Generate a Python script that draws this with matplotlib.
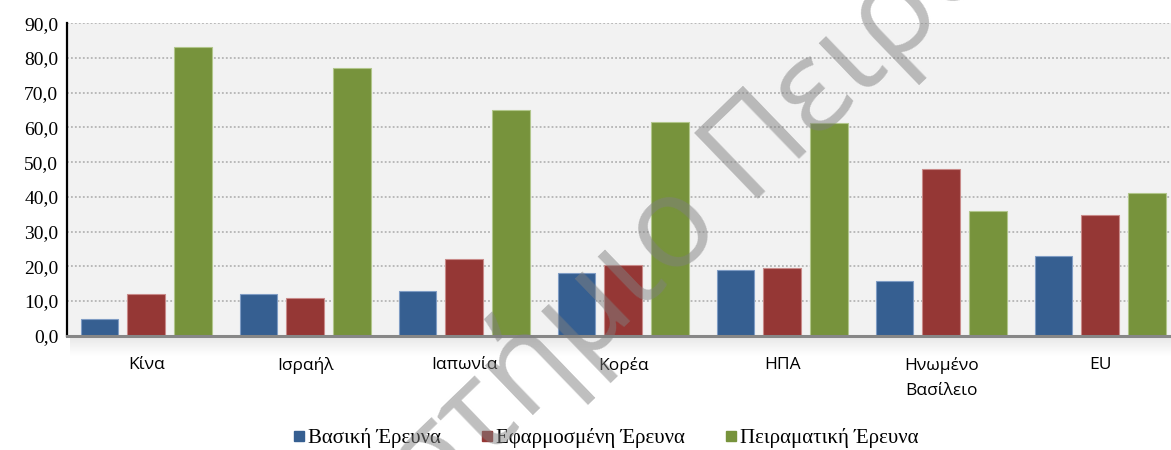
import matplotlib
matplotlib.use("Agg")
import matplotlib.pyplot as plt
import numpy as np
from matplotlib.lines import Line2D

countries = ["Κίνα", "Ισραήλ", "Ιαπωνία", "Κορέα", "ΗΠΑ", "Ηνωμένο\nΒασίλειο", "EU"]
basic = [4.7, 12.0, 12.9, 18.0, 18.9, 15.9, 22.9]
applied = [11.9, 10.9, 22.0, 20.3, 19.5, 47.9, 34.9]
experimental = [83.2, 77.0, 65.0, 61.5, 61.3, 35.8, 41.0]
series_names = ["Βασική Έρευνα", "Εφαρμοσμένη Έρευνα", "Πειραματική Έρευνα"]
y_ticks = [0, 10, 20, 30, 40, 50, 60, 70, 80, 90]
y_labels = ["0,0", "10,0", "20,0", "30,0", "40,0", "50,0", "60,0", "70,0", "80,0", "90,0"]
watermark = "Πανεπιστήμιο Πειραιώς"

colors = ["#365f91", "#953735", "#77933c"]
edges = ["#7f9cc4", "#c98a89", "#b1c68b"]

W, H = 1171, 450
fig = plt.figure(figsize=(W / 100, H / 100), dpi=100)
ax = fig.add_axes([66.7 / W, (H - 335.7) / H, (1179.7 - 66.7) / W, (335.7 - 23.3) / H])
ax.set_facecolor("#f2f2f2")

x = np.arange(len(countries))
width = 0.237
step = 0.294
for i, vals in enumerate([basic, applied, experimental]):
    ax.bar(x + (i - 1) * step, vals, width, color=colors[i], edgecolor=edges[i],
           linewidth=0.8, zorder=3)

ax.set_xlim(-0.5, len(countries) - 0.5)
ax.set_ylim(0, 90)
ax.set_yticks(y_ticks)
ax.set_yticklabels(y_labels, fontfamily="Liberation Serif", fontsize=14)
ax.set_xticks(x)
ax.set_xticklabels(countries, fontfamily="Open Sans", fontsize=12.5, linespacing=1.75)
ax.tick_params(axis="both", length=0)
ax.tick_params(axis="y", pad=6)
ax.tick_params(axis="x", pad=15)

ax.yaxis.grid(True, color="#b4b4b4", linestyle=(0, (1, 1.2)), linewidth=1.3, zorder=1)
ax.set_axisbelow(True)
for side in ["top", "right"]:
    ax.spines[side].set_visible(False)
ax.spines["left"].set_linestyle((0, (1, 1)))
ax.spines["left"].set_linewidth(1.6)
ax.spines["left"].set_color("black")
ax.spines["bottom"].set_color("#878787")
ax.spines["bottom"].set_linewidth(2.2)
ax.spines["bottom"].set_zorder(4)

# soft shadow under the plot area
shadow = fig.add_axes([70 / W, (H - 356) / H, (W - 70) / W, 20 / H], zorder=-1)
grad = np.linspace(0.9, 1.0, 50).reshape(-1, 1)
shadow.imshow(np.repeat(grad, 10, axis=1), cmap="gray", vmin=0, vmax=1, aspect="auto")
shadow.axis("off")

handles = [Line2D([], [], marker="s", linestyle="none", markersize=7.5, color=c) for c in colors]
fig.legend(handles, series_names, loc="center", bbox_to_anchor=(604 / W, (H - 438) / H),
           ncol=3, frameon=False, prop={"family": "Liberation Serif", "size": 15},
           handletextpad=0.0, columnspacing=1.75, handlelength=0.9)

# watermark: place so the "Π" of the second word sits where it is in the original
wm_font = dict(fontfamily="Open Sans", fontsize=92)
angle = 44
renderer = fig.canvas.get_renderer()
probe = fig.text(0, 0, "Πανεπιστήμιο Π", **wm_font)
full_w = probe.get_window_extent(renderer).width
probe.set_text("Π")
pi_w = probe.get_window_extent(renderer).width
probe.remove()
offset = full_w - pi_w - 12
px, py = 740, H - 215
ax0 = px - offset * np.cos(np.radians(angle))
ay0 = py - offset * np.sin(np.radians(angle))
fig.text(ax0 / W, ay0 / H, watermark, **wm_font,
         color="#808080", alpha=0.5, rotation=angle, rotation_mode="anchor",
         ha="left", va="baseline", zorder=10)

fig.savefig("out.png", dpi=100)
